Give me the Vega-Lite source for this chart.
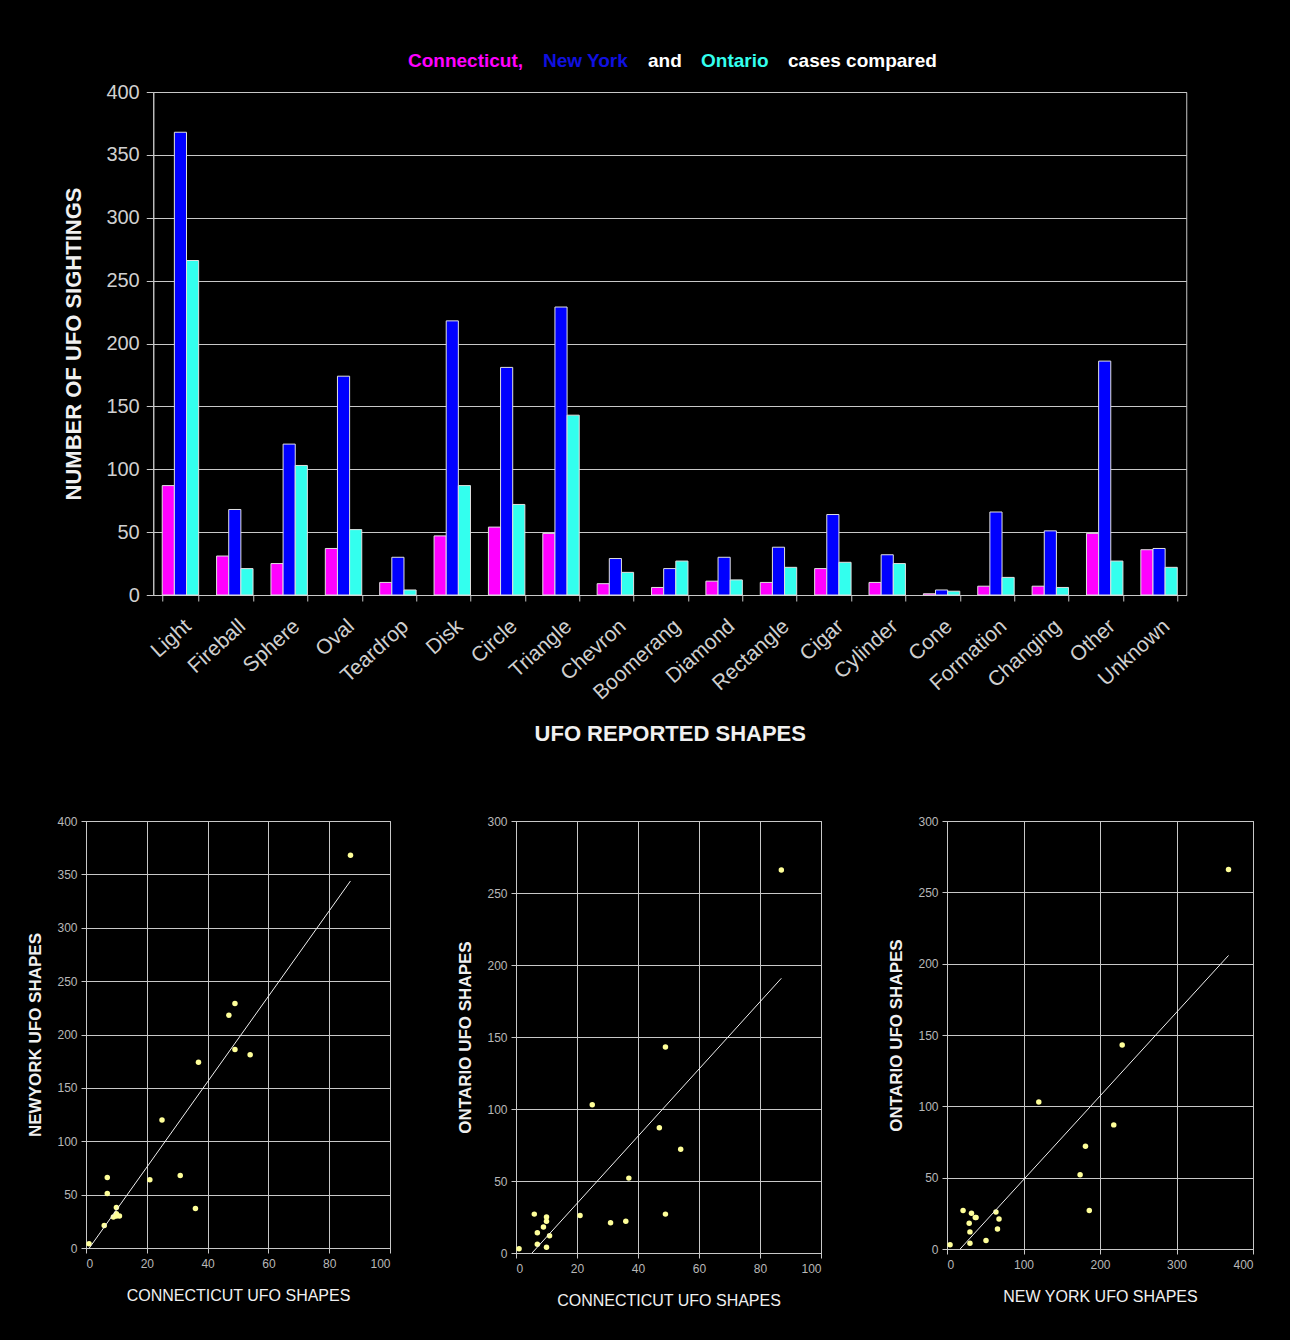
{
  "$schema": "https://vega.github.io/schema/vega-lite/v6.json",
  "background": "black",
  "padding": {"left": 26, "top": 51, "right": 36, "bottom": 31},
  "config": {
    "font": "Liberation Sans",
    "view": {"stroke": "#c8c8c8", "strokeWidth": 1},
    "axis": {
      "domainColor": "#c8c8c8",
      "tickColor": "#c8c8c8",
      "gridColor": "#c8c8c8",
      "gridOpacity": 1,
      "labelColor": "#d0d0d0",
      "titleColor": "#f0f0f0",
      "labelFont": "Liberation Sans",
      "titleFont": "Liberation Sans"
    }
  },
  "data": {
    "values": [
      {"shape": "Light", "Connecticut": 87, "New York": 368, "Ontario": 266},
      {"shape": "Fireball", "Connecticut": 31, "New York": 68, "Ontario": 21},
      {"shape": "Sphere", "Connecticut": 25, "New York": 120, "Ontario": 103},
      {"shape": "Oval", "Connecticut": 37, "New York": 174, "Ontario": 52},
      {"shape": "Teardrop", "Connecticut": 10, "New York": 30, "Ontario": 4},
      {"shape": "Disk", "Connecticut": 47, "New York": 218, "Ontario": 87},
      {"shape": "Circle", "Connecticut": 54, "New York": 181, "Ontario": 72},
      {"shape": "Triangle", "Connecticut": 49, "New York": 229, "Ontario": 143},
      {"shape": "Chevron", "Connecticut": 9, "New York": 29, "Ontario": 18},
      {"shape": "Boomerang", "Connecticut": 6, "New York": 21, "Ontario": 27},
      {"shape": "Diamond", "Connecticut": 11, "New York": 30, "Ontario": 12},
      {"shape": "Rectangle", "Connecticut": 10, "New York": 38, "Ontario": 22},
      {"shape": "Cigar", "Connecticut": 21, "New York": 64, "Ontario": 26},
      {"shape": "Cylinder", "Connecticut": 10, "New York": 32, "Ontario": 25},
      {"shape": "Cone", "Connecticut": 1, "New York": 4, "Ontario": 3},
      {"shape": "Formation", "Connecticut": 7, "New York": 66, "Ontario": 14},
      {"shape": "Changing", "Connecticut": 7, "New York": 51, "Ontario": 6},
      {"shape": "Other", "Connecticut": 49, "New York": 186, "Ontario": 27},
      {"shape": "Unknown", "Connecticut": 36, "New York": 37, "Ontario": 22}
    ]
  },
  "spacing": 69,
  "center": true,
  "vconcat": [
    {
      "width": 1033,
      "height": 503,
      "transform": [
        {"fold": ["Connecticut", "New York", "Ontario"], "as": ["series", "count"]}
      ],
      "mark": {"type": "bar", "stroke": "#e0e0e0", "strokeWidth": 1},
      "encoding": {
        "x": {
          "field": "shape",
          "type": "nominal",
          "sort": null,
          "scale": {"paddingInner": 0.33, "paddingOuter": 0.165},
          "axis": {
            "title": "UFO REPORTED SHAPES",
            "labelAngle": -42,
            "labelFontSize": 21,
            "labelPadding": 14,
            "tickBand": "extent",
            "tickSize": 6,
            "titleFontSize": 22,
            "titleFontWeight": "bold",
            "titlePadding": 20
          }
        },
        "xOffset": {"field": "series", "type": "nominal"},
        "y": {
          "field": "count",
          "type": "quantitative",
          "scale": {"domain": [0, 400], "nice": false},
          "axis": {
            "title": "NUMBER OF UFO SIGHTINGS",
            "values": [0, 50, 100, 150, 200, 250, 300, 350, 400],
            "labelFontSize": 20,
            "tickSize": 7,
            "labelPadding": 7,
            "titleFontSize": 22,
            "titleFontWeight": "bold",
            "titlePadding": 20
          }
        },
        "color": {
          "field": "series",
          "type": "nominal",
          "scale": {
            "domain": ["Connecticut", "New York", "and", "Ontario", "cases compared"],
            "range": ["#ff00ff", "#0000ff", "#ffffff", "#33ffee", "#ffffff"]
          },
          "legend": {
            "orient": "none",
            "legendX": 303,
            "legendY": -41,
            "direction": "horizontal",
            "title": null,
            "symbolType": "square",
            "symbolSize": 1,
            "symbolStrokeWidth": 0,
            "symbolOpacity": 0,
            "labelOffset": 0,
            "columnPadding": 0,
            "labelFont": "Liberation Sans",
            "labelFontWeight": "bold",
            "labelFontSize": 19,
            "labelLimit": 400,
            "labelColor": {"expr": "datum.value == 'Connecticut' ? '#ff00ff' : datum.value == 'New York' ? '#1010e0' : datum.value == 'Ontario' ? '#33ffee' : '#ffffff'"},
            "labelExpr": "datum.label == 'Connecticut' ? 'Connecticut,' : datum.label"
          }
        }
      }
    },
    {
      "spacing": 65,
      "hconcat": [
        {
          "width": 304,
          "height": 427,
          "layer": [
            {
              "mark": {"type": "circle", "size": 30, "color": "#ffff99", "opacity": 1},
              "encoding": {
                "x": {"field": "Connecticut", "type": "quantitative", "scale": {"domain": [0, 100], "nice": false},
                  "axis": {"title": "CONNECTICUT UFO SHAPES", "values": [0, 20, 40, 60, 80, 100], "labelFontSize": 12, "labelColor": "#b8b8b8", "tickSize": 5, "labelPadding": 5, "titleFontSize": 16, "titleFontWeight": "normal", "titlePadding": 18}},
                "y": {"field": "New York", "type": "quantitative", "scale": {"domain": [0, 400], "nice": false},
                  "axis": {"title": "NEWYORK UFO SHAPES", "values": [0, 50, 100, 150, 200, 250, 300, 350, 400], "labelFontSize": 12, "labelColor": "#b8b8b8", "tickSize": 5, "labelPadding": 4, "titleFontSize": 17, "titleFontWeight": "bold", "titlePadding": 12}}
              }
            },
            {
              "transform": [{"regression": "New York", "on": "Connecticut"}],
              "mark": {"type": "line", "color": "#f0f0f0", "strokeWidth": 1, "clip": true},
              "encoding": {
                "x": {"field": "Connecticut", "type": "quantitative"},
                "y": {"field": "New York", "type": "quantitative"}
              }
            }
          ]
        },
        {
          "width": 305,
          "height": 432,
          "layer": [
            {
              "mark": {"type": "circle", "size": 30, "color": "#ffff99", "opacity": 1},
              "encoding": {
                "x": {"field": "Connecticut", "type": "quantitative", "scale": {"domain": [0, 100], "nice": false},
                  "axis": {"title": "CONNECTICUT UFO SHAPES", "values": [0, 20, 40, 60, 80, 100], "labelFontSize": 12, "labelColor": "#b8b8b8", "tickSize": 5, "labelPadding": 5, "titleFontSize": 16, "titleFontWeight": "normal", "titlePadding": 18}},
                "y": {"field": "Ontario", "type": "quantitative", "scale": {"domain": [0, 300], "nice": false},
                  "axis": {"title": "ONTARIO UFO SHAPES", "values": [0, 50, 100, 150, 200, 250, 300], "labelFontSize": 12, "labelColor": "#b8b8b8", "tickSize": 5, "labelPadding": 4, "titleFontSize": 17, "titleFontWeight": "bold", "titlePadding": 12}}
              }
            },
            {
              "transform": [{"regression": "Ontario", "on": "Connecticut"}],
              "mark": {"type": "line", "color": "#f0f0f0", "strokeWidth": 1, "clip": true},
              "encoding": {
                "x": {"field": "Connecticut", "type": "quantitative"},
                "y": {"field": "Ontario", "type": "quantitative"}
              }
            }
          ]
        },
        {
          "width": 306,
          "height": 428,
          "layer": [
            {
              "mark": {"type": "circle", "size": 30, "color": "#ffff99", "opacity": 1},
              "encoding": {
                "x": {"field": "New York", "type": "quantitative", "scale": {"domain": [0, 400], "nice": false},
                  "axis": {"title": "NEW YORK UFO SHAPES", "values": [0, 100, 200, 300, 400], "labelFontSize": 12, "labelColor": "#b8b8b8", "tickSize": 5, "labelPadding": 5, "titleFontSize": 16, "titleFontWeight": "normal", "titlePadding": 18}},
                "y": {"field": "Ontario", "type": "quantitative", "scale": {"domain": [0, 300], "nice": false},
                  "axis": {"title": "ONTARIO UFO SHAPES", "values": [0, 50, 100, 150, 200, 250, 300], "labelFontSize": 12, "labelColor": "#b8b8b8", "tickSize": 5, "labelPadding": 4, "titleFontSize": 17, "titleFontWeight": "bold", "titlePadding": 12}}
              }
            },
            {
              "transform": [{"regression": "Ontario", "on": "New York"}],
              "mark": {"type": "line", "color": "#f0f0f0", "strokeWidth": 1, "clip": true},
              "encoding": {
                "x": {"field": "New York", "type": "quantitative"},
                "y": {"field": "Ontario", "type": "quantitative"}
              }
            }
          ]
        }
      ]
    }
  ]
}
